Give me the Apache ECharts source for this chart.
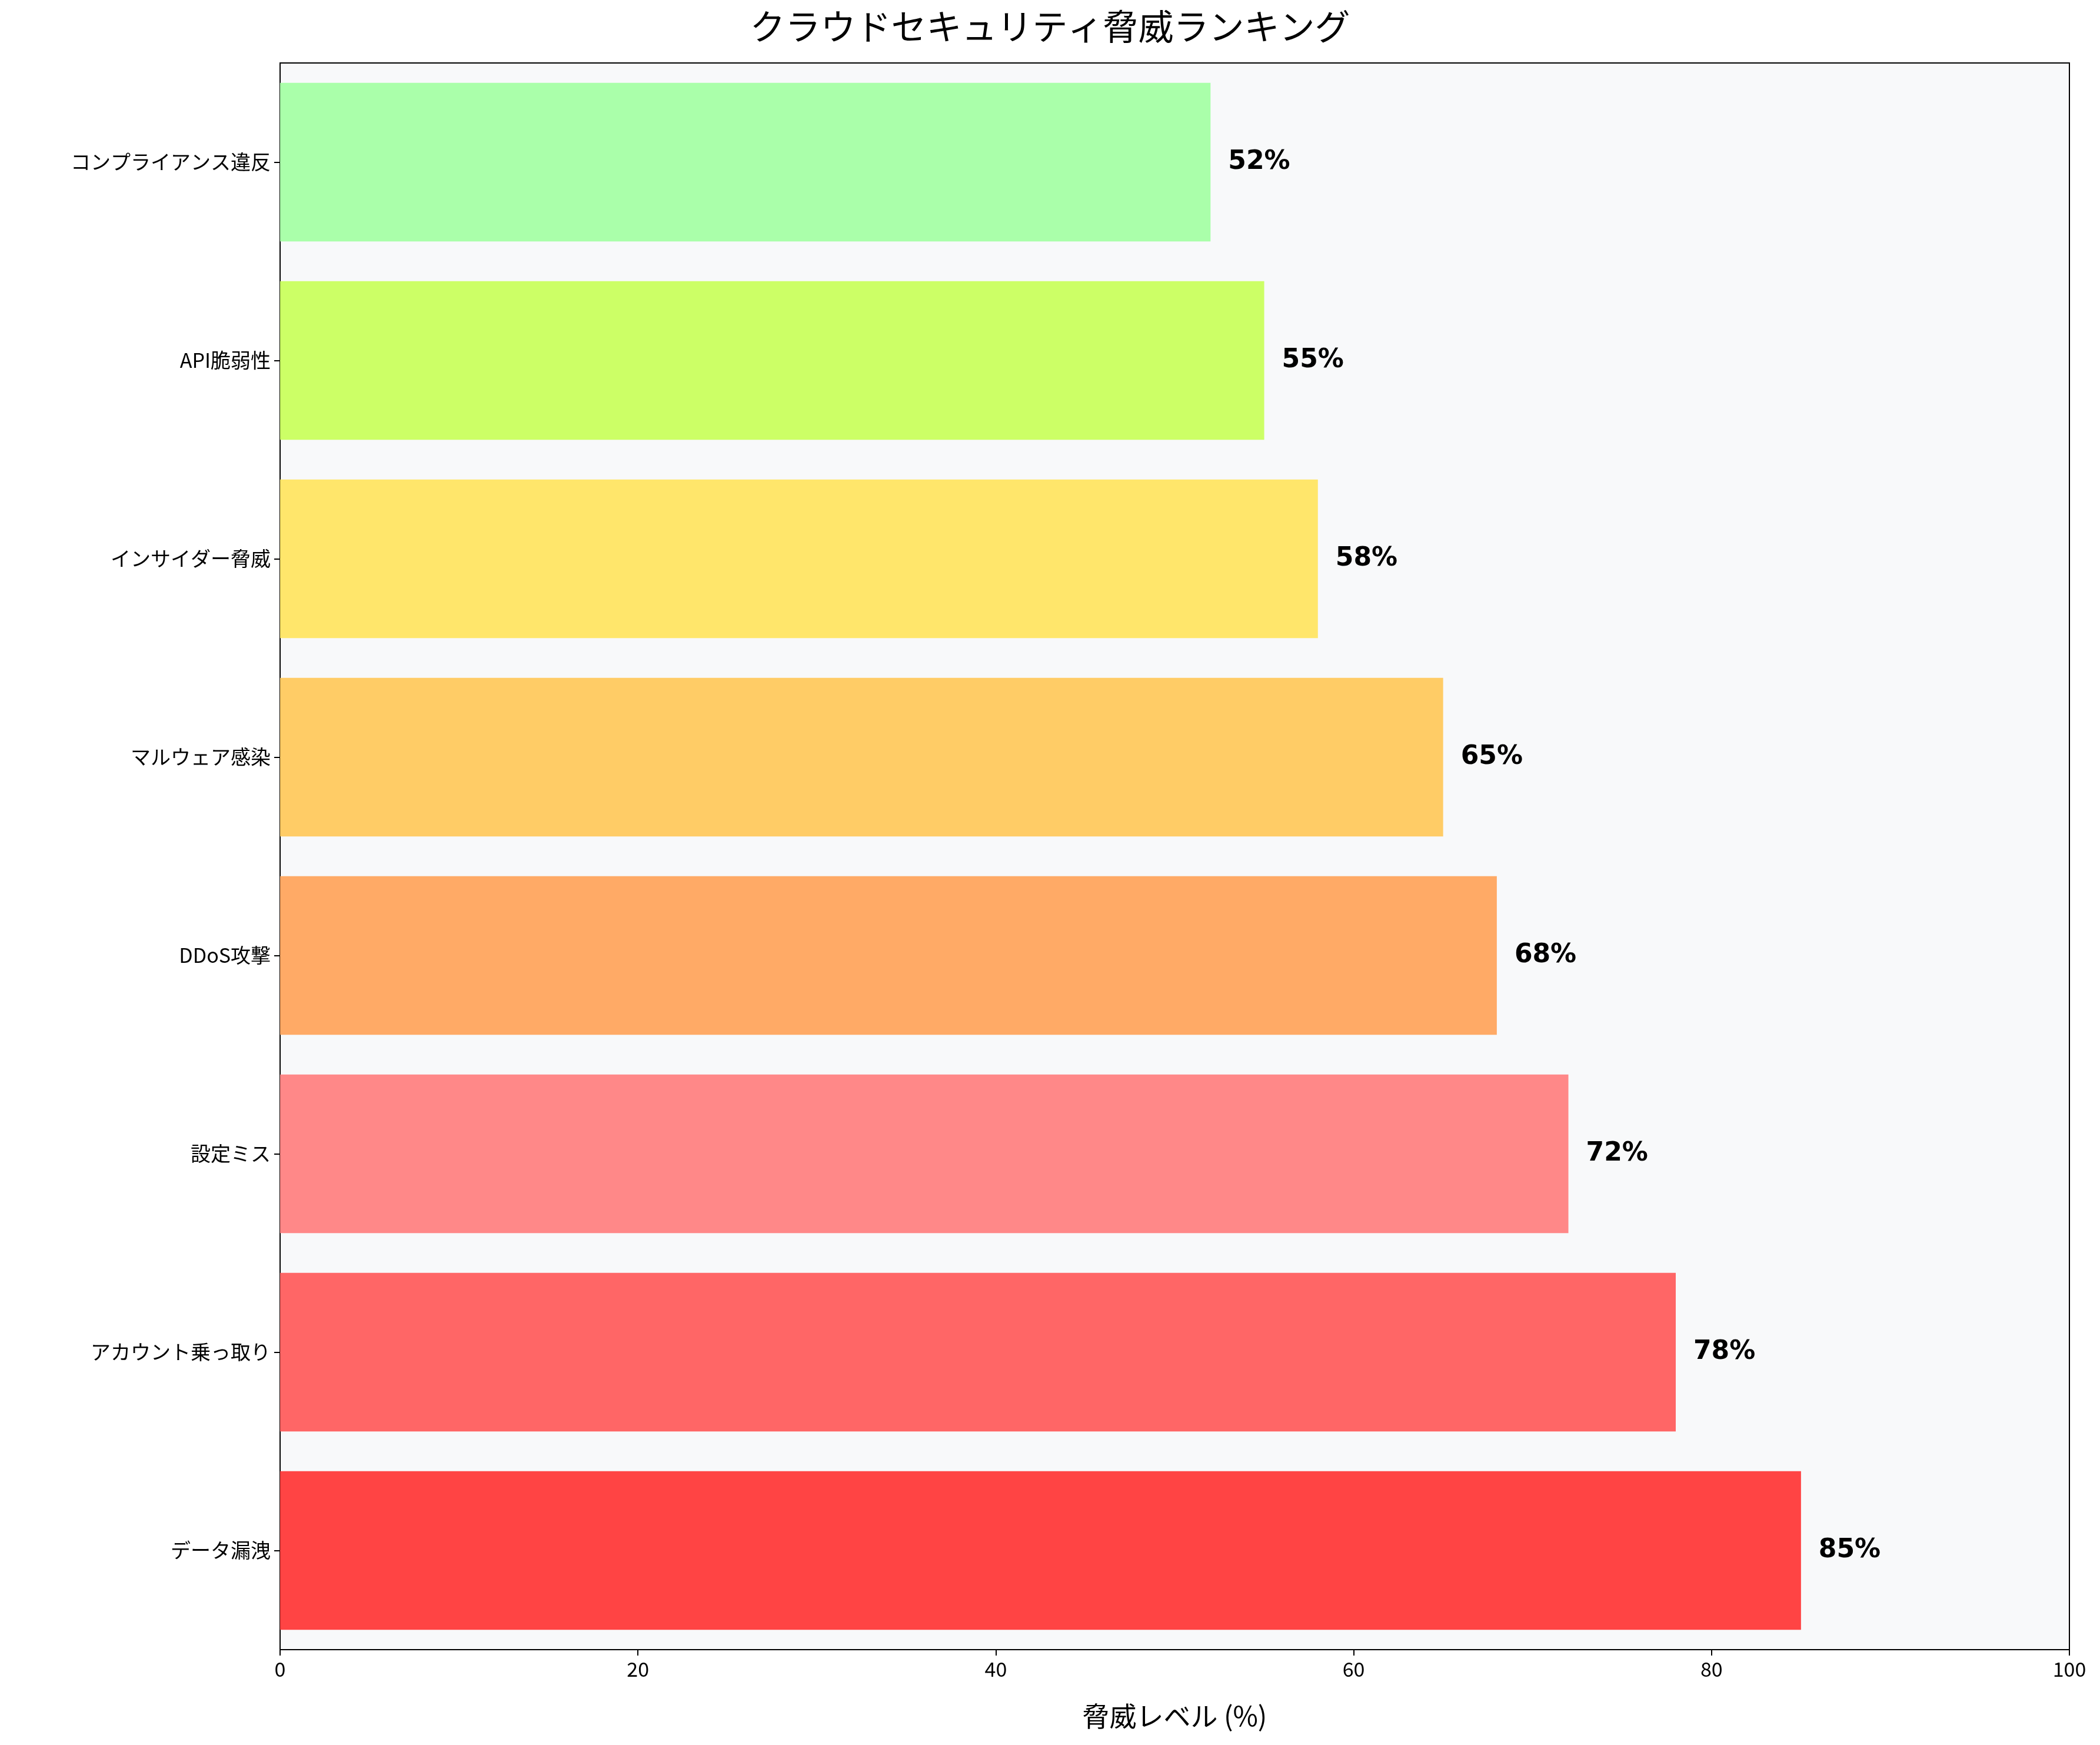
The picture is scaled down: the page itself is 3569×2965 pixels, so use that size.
<!DOCTYPE html>
<html>
<head>
<meta charset="utf-8">
<script src="https://cdn.jsdelivr.net/npm/echarts@6/dist/echarts.min.js"></script>
<style>html,body{margin:0;padding:0;background:#fff}#chart{width:3569px;height:2965px}</style>
</head>
<body>
<div id="chart"></div>
<script>
// bottom to top, as drawn
const threats = ['データ漏洩', 'アカウント乗っ取り', '設定ミス', 'DDoS攻撃', 'マルウェア感染', 'インサイダー脅威', 'API脆弱性', 'コンプライアンス違反'];
const levels = [85, 78, 72, 68, 65, 58, 55, 52];
const colors = ['#FF4444', '#FF6666', '#FF8888', '#FFAA66', '#FFCC66', '#FFE66B', '#CCFF66', '#AAFFAA'];
const xTicks = [0, 20, 40, 60, 80, 100];

const font = '"Noto Sans CJK JP", "DejaVu Sans", sans-serif';

let myChart = echarts.init(document.getElementById('chart'));
myChart.setOption({
  backgroundColor: '#ffffff',
  title: {
    text: 'クラウドセキュリティ脅威ランキング',
    left: 'center', top: 10,
    textStyle: {fontFamily: font, fontSize: 60, fontWeight: 'normal', color: '#000'}
  },
  grid: {left: 476, right: 52, top: 107, bottom: 162, show: true,
    backgroundColor: '#F8F9FA', borderColor: '#000', borderWidth: 2},
  xAxis: {
    type: 'value', min: xTicks[0], max: xTicks[xTicks.length - 1], interval: 20,
    name: '脅威レベル (%)', nameLocation: 'middle', nameGap: 90,
    nameTextStyle: {fontFamily: font, fontSize: 46, color: '#000'},
    axisLine: {show: true, lineStyle: {color: '#000', width: 2}},
    axisTick: {show: true, length: 10, lineStyle: {color: '#000', width: 2}},
    axisLabel: {fontFamily: font, fontSize: 34, color: '#000', margin: 16},
    splitLine: {show: false}
  },
  yAxis: {
    type: 'category', data: threats,
    axisLine: {show: true, lineStyle: {color: '#000', width: 2}},
    axisTick: {show: true, alignWithLabel: true, length: 10, lineStyle: {color: '#000', width: 2}},
    axisLabel: {fontFamily: font, fontSize: 34, color: '#000', margin: 16}
  },
  series: [{
    type: 'bar', barCategoryGap: '20%',
    data: levels.map((v, i) => ({value: v, itemStyle: {color: colors[i]}})),
    label: {show: true, position: 'right', distance: 30, formatter: '{c}%',
      fontFamily: '"DejaVu Sans", sans-serif', fontSize: 44, fontWeight: 'bold', color: '#000'}
  }]
});
</script>
</body>
</html>
